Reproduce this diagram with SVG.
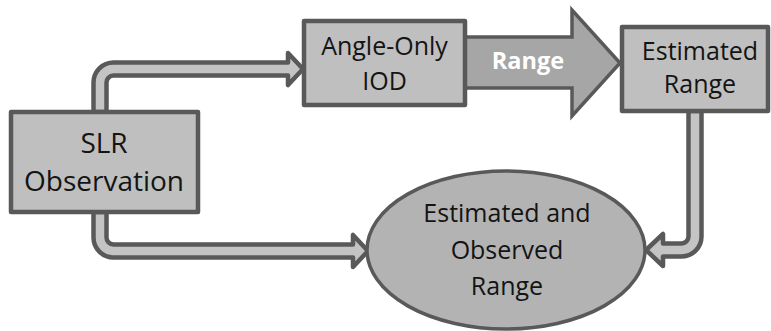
<svg xmlns="http://www.w3.org/2000/svg" width="771" height="331" viewBox="0 0 771 331">
<style>
.box{fill:#bfbfbf;stroke:#595959;stroke-width:4.5;stroke-linejoin:round}
.ell{fill:#b3b3b3;stroke:#595959;stroke-width:3.5}
.pipe{fill:#c4c4c4;stroke:#595959;stroke-width:4.5;stroke-linejoin:round}
.big{fill:#a6a6a6;stroke:#595959;stroke-width:3.5;stroke-linejoin:miter}
.t{font-family:"Open Sans","Liberation Sans",sans-serif;fill:#141414;text-anchor:middle}
.l{font-size:28px}
.m{font-size:25px}
.w{font-family:"Open Sans","Liberation Sans",sans-serif;font-weight:bold;font-size:23.5px;fill:#ffffff;text-anchor:middle}
</style>
<rect width="771" height="331" fill="#ffffff"/>
<g id="connectors">
<path class="pipe" d="M93.5,112 V82.5 A20,20 0 0 1 113.5,62.5 H288 V53 L303,69 L288,85 V75.5 H113.5 A7,7 0 0 0 106.5,82.5 V112 Z"/>
<path class="pipe" d="M93.5,212 V237.5 A20,20 0 0 0 113.5,257.5 H353 V267 L368,251 L353,235 V244.5 H113.5 A7,7 0 0 1 106.5,237.5 V212 Z"/>
<path class="pipe" d="M701.5,111 V236.5 A20,20 0 0 1 681.5,256.5 H663 V266 L646,250 L663,234 V243.5 H681.5 A7,7 0 0 0 688.5,236.5 V111 Z"/>
<g id="range-arrow">
<polygon class="big" points="465,37 572,37 572,10 620,63 572,116 572,88 465,88"/>
<text class="w" x="528" y="69">Range</text>
</g>
</g>
<g id="slr">
<rect class="box" x="11" y="112" width="187" height="100"/>
<text class="t l" x="104" y="153">SLR</text>
<text class="t l" x="104" y="191">Observation</text>
</g>
<g id="iod">
<rect class="box" x="304" y="21" width="161" height="84"/>
<text class="t m" x="384.5" y="55">Angle-Only</text>
<text class="t m" x="384.5" y="90">IOD</text>
</g>
<g id="estimated">
<rect class="box" x="622" y="27" width="146" height="84"/>
<text class="t m" x="700" y="60">Estimated</text>
<text class="t m" x="700" y="93">Range</text>
</g>
<g id="combined">
<ellipse class="ell" cx="506" cy="250" rx="139" ry="79"/>
<text class="t m" x="507" y="222">Estimated and</text>
<text class="t m" x="507" y="259">Observed</text>
<text class="t m" x="507" y="295">Range</text>
</g>
</svg>
